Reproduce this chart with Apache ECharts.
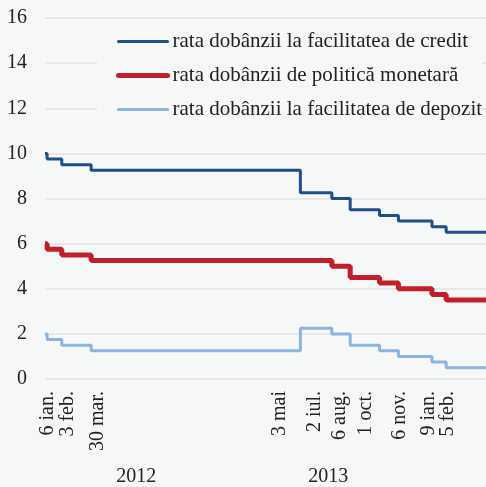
<!DOCTYPE html>
<html lang="ro">
<head>
    <meta charset="UTF-8">
    <title>Ratele dobânzii BNR</title>
    <script src="https://cdn.jsdelivr.net/npm/echarts@6/dist/echarts.min.js"></script>
    <style>
        html, body { margin: 0; padding: 0; background: #f6f7f7; }
        #chart { width: 486px; height: 487px; }
    </style>
</head>
<body>
    <div id="chart"></div>
    <script>
        // dates when rates changed (first = start of plot, last = end of plot)
        var changeDates = ['2012-01-02', '2012-01-06', '2012-02-03', '2012-03-30', '2013-05-03', '2013-07-02',
                           '2013-08-06', '2013-10-01', '2013-11-06', '2014-01-09', '2014-02-05', '2014-04-22'];
        var creditRate  = [10.00, 9.75, 9.50, 9.25, 8.25, 8.00, 7.50, 7.25, 7.00, 6.75, 6.50, 6.50];
        var policyRate  = [6.00, 5.75, 5.50, 5.25, 5.25, 5.00, 4.50, 4.25, 4.00, 3.75, 3.50, 3.50];
        var depositRate = [2.00, 1.75, 1.50, 1.25, 2.25, 2.00, 1.50, 1.25, 1.00, 0.75, 0.50, 0.50];

        // tick labels and where they sit on the time axis in the original
        var tickLabels = ['6 ian.', '3 feb.', '30 mar.', '3 mai', '2 iul.', '6 aug.', '1 oct.', '6 nov.', '9 ian.', '5 feb.'];
        var tickLabelDates = ['2012-01-08', '2012-02-15', '2012-04-12', '2013-03-25', '2013-05-31',
                              '2013-07-18', '2013-09-05', '2013-11-09', '2014-01-02', '2014-02-09'];
        var yearLabels = ['2012', '2013'];
        var yearLabelDates = ['2012-06-24', '2013-06-25'];

        var seriesNames = ['rata dobânzii la facilitatea de credit',
                           'rata dobânzii de politică monetară',
                           'rata dobânzii la facilitatea de depozit'];
        var seriesColors = ['#1f4e8c', '#c1202a', '#8db3e2'];
        var seriesWidths = [3, 5, 3];

        // dates as day numbers (UTC) so a plain value axis can be used
        function day(s) {
            var p = s.split('-');
            return Date.UTC(+p[0], +p[1] - 1, +p[2]) / 86400000;
        }
        function pairs(values) {
            return changeDates.map(function (d, i) { return [day(d), values[i]]; });
        }

        var labelDays = tickLabelDates.map(day);
        var yearDays = yearLabelDates.map(day);
        var xMin = day(changeDates[0]);
        var xMax = day(changeDates[changeDates.length - 1]);
        var font = 'Liberation Serif';
        var textColor = '#222222';

        var myChart = echarts.init(document.getElementById('chart'));
        var option = {
            backgroundColor: '#f6f7f7',
            animation: false,
            textStyle: { fontFamily: font },
            grid: { left: 45, right: 0, top: 18, bottom: 107 },
            legend: {
                orient: 'vertical',
                left: 97,
                top: 20,
                padding: [11, 0, 11, 19],
                backgroundColor: '#f6f7f7',
                itemWidth: 49,
                itemHeight: 14,
                itemGap: 13,
                itemStyle: { opacity: 0 },
                textStyle: { fontFamily: font, fontSize: 21, color: textColor, lineHeight: 20 },
                data: seriesNames.map(function (n, i) {
                    return { name: n, lineStyle: { width: seriesWidths[i], color: seriesColors[i], cap: 'round' } };
                })
            },
            xAxis: [
                {
                    type: 'value',
                    min: xMin,
                    max: xMax,
                    axisLine: { show: false },
                    axisTick: { show: false },
                    splitLine: { show: false },
                    axisLabel: {
                        customValues: labelDays,
                        rotate: 90,
                        margin: 12,
                        fontFamily: font,
                        fontSize: 20,
                        color: textColor,
                        formatter: function (v) {
                            var i = labelDays.indexOf(v);
                            return i >= 0 ? tickLabels[i] : '';
                        }
                    }
                },
                {
                    type: 'value',
                    position: 'bottom',
                    min: xMin,
                    max: xMax,
                    axisLine: { show: false },
                    axisTick: { show: false },
                    splitLine: { show: false },
                    axisLabel: {
                        customValues: yearDays,
                        margin: 88,
                        fontFamily: font,
                        fontSize: 20,
                        color: textColor,
                        formatter: function (v) {
                            var i = yearDays.indexOf(v);
                            return i >= 0 ? yearLabels[i] : '';
                        }
                    }
                }
            ],
            yAxis: {
                type: 'value',
                min: 0,
                max: 16,
                interval: 2,
                axisLine: { show: false },
                axisTick: { show: false },
                axisLabel: { margin: 18, fontFamily: font, fontSize: 20, color: textColor },
                splitLine: { lineStyle: { color: '#e3e3e3', width: 1.5 } }
            },
            series: [creditRate, policyRate, depositRate].map(function (values, i) {
                return {
                    name: seriesNames[i],
                    type: 'line',
                    step: 'end',
                    symbol: 'none',
                    color: seriesColors[i],
                    lineStyle: { width: seriesWidths[i], color: seriesColors[i] },
                    data: pairs(values)
                };
            })
        };
        myChart.setOption(option);
    </script>
</body>
</html>
